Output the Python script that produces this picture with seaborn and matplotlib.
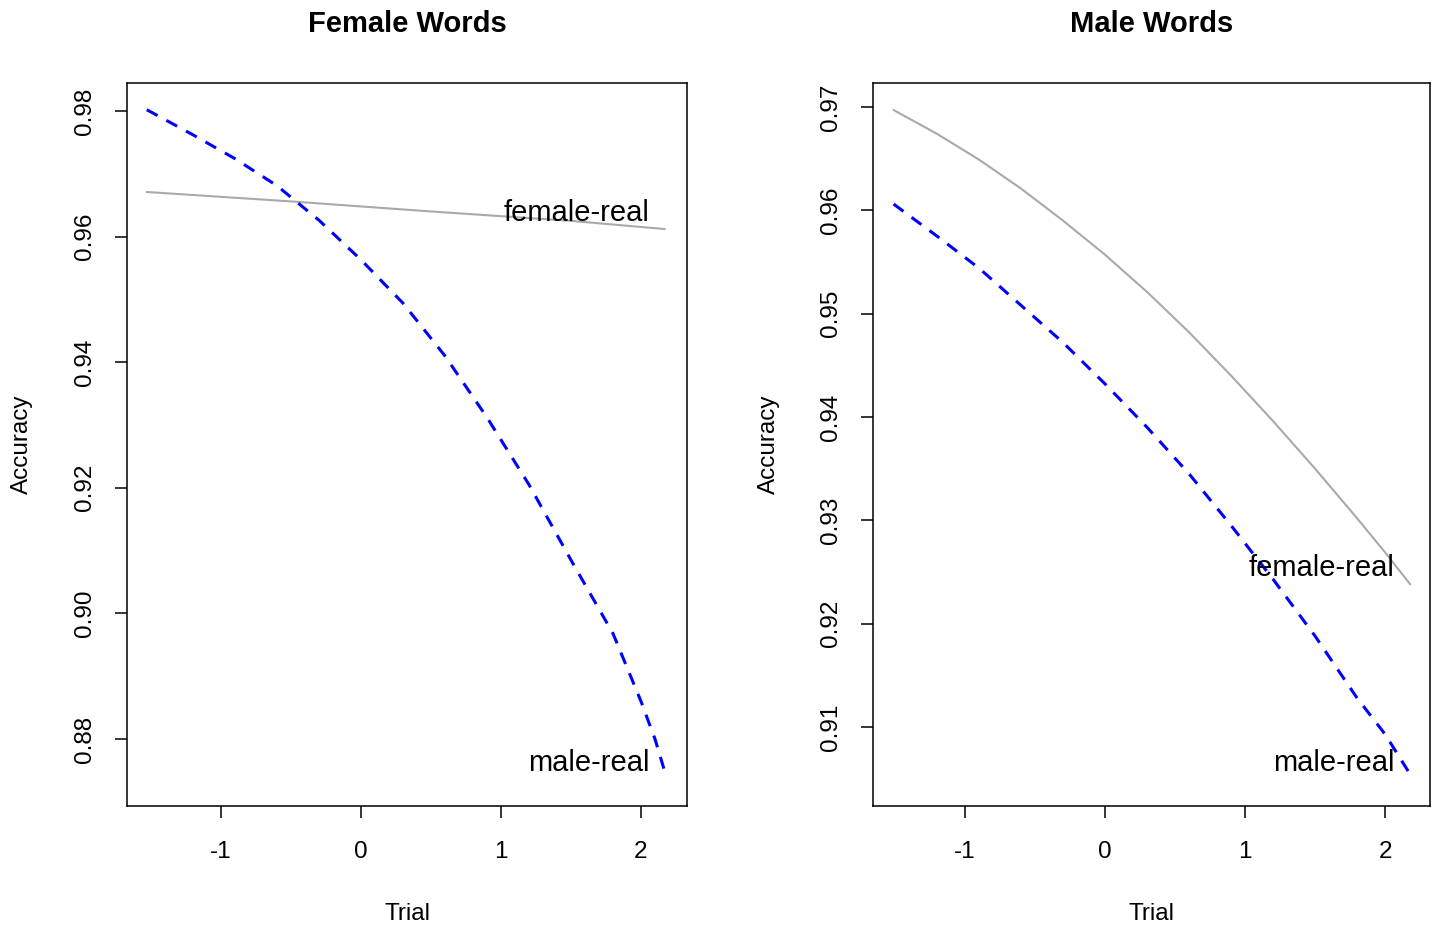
import numpy as np
import pandas as pd
import matplotlib
matplotlib.use("Agg")
import matplotlib.pyplot as plt
import seaborn as sns

# values
fw_trial_male = [-1.53, -1.2, -0.9, -0.6, -0.3, 0.0, 0.3, 0.6, 0.9, 1.2, 1.5, 1.8, 2.0, 2.1, 2.17]
fw_male_real = [0.9802, 0.9762, 0.9724, 0.9681, 0.9626, 0.9563, 0.9494, 0.9410, 0.9312,
                0.9205, 0.9085, 0.8968, 0.8860, 0.8800, 0.8748]
fw_trial_female = [-1.53, -0.5, 0.5, 1.5, 2.17]
fw_female_real = [0.9671, 0.9656, 0.9640, 0.9625, 0.9612]

mw_trial = [-1.51, -1.2, -0.9, -0.6, -0.3, 0.0, 0.3, 0.6, 0.9, 1.2, 1.5, 1.8, 2.0, 2.18]
mw_male_real = [0.9606, 0.9575, 0.9544, 0.9508, 0.9472, 0.9432, 0.9390, 0.9345, 0.9295,
                0.9243, 0.9188, 0.9128, 0.9093, 0.9054]
mw_female_real = [0.9697, 0.9674, 0.9649, 0.9621, 0.9590, 0.9557, 0.9521, 0.9482, 0.9440,
                  0.9396, 0.9350, 0.9302, 0.9269, 0.9238]

x_ticks = [-1, 0, 1, 2]
fw_y_ticks = [0.88, 0.90, 0.92, 0.94, 0.96, 0.98]
mw_y_ticks = [0.91, 0.92, 0.93, 0.94, 0.95, 0.96, 0.97]

sns.set_style("white")
plt.rcParams['font.family'] = ['Liberation Sans', 'DejaVu Sans']
plt.rcParams['axes.unicode_minus'] = False
plt.rcParams['text.color'] = 'black'
plt.rcParams['axes.labelcolor'] = 'black'
plt.rcParams['xtick.color'] = 'black'
plt.rcParams['ytick.color'] = 'black'

GRAY = '#a9a9a9'
BLUE = '#0000ff'

fig = plt.figure(figsize=(14.34, 9.26), dpi=100)
ax1 = fig.add_axes([0.0886, 0.1296, 0.3905, 0.7808])
ax2 = fig.add_axes([0.6088, 0.1296, 0.3884, 0.7808])


def style_axes(ax, title, yticks, xlim, ylim):
    ax.set_xlim(*xlim)
    ax.set_ylim(*ylim)
    ax.set_xticks(x_ticks)
    ax.set_xticklabels([str(t) for t in x_ticks])
    ax.set_yticks(yticks)
    ax.set_yticklabels(['%.2f' % t for t in yticks], rotation=90, va='center')
    for s in ax.spines.values():
        s.set_visible(True)
        s.set_color('black')
        s.set_linewidth(1.1)
    ax.tick_params(axis='both', which='major', direction='out', length=8.5, width=1.1,
                   color='black', labelsize=17.5, labelcolor='black',
                   bottom=True, left=True, top=False, right=False)
    ax.tick_params(axis='x', pad=17)
    ax.tick_params(axis='y', pad=14)
    ax.set_xlabel('Trial', fontsize=17.5, color='black')
    ax.set_ylabel('Accuracy', fontsize=17.5, color='black')
    ax.xaxis.set_label_coords(0.5, -0.149)
    ax.xaxis.label.set_va('center')
    ax.yaxis.set_label_coords(-0.1875, 0.5)
    ax.yaxis.label.set_va('center')
    ax.text(0.5, 1.082, title, transform=ax.transAxes, ha='center', va='center',
            fontsize=21, fontweight='bold', color='black')
    ax.grid(False)


# Female Words
sns.lineplot(x=fw_trial_female, y=fw_female_real, ax=ax1, color=GRAY, linewidth=1.5, sort=False)
sns.lineplot(x=fw_trial_male, y=fw_male_real, ax=ax1, color=BLUE, linewidth=2.2,
             linestyle=(0, (4, 3.3)), sort=False)
style_axes(ax1, 'Female Words', fw_y_ticks, (-1.671, 2.329), (0.86933, 0.98446))
ax1.text(2.064, 0.9638, 'female-real', ha='right', va='center', fontsize=21)
ax1.text(2.064, 0.8762, 'male-real', ha='right', va='center', fontsize=21)

# Male Words
sns.lineplot(x=mw_trial, y=mw_female_real, ax=ax2, color=GRAY, linewidth=1.5, sort=False)
sns.lineplot(x=mw_trial, y=mw_male_real, ax=ax2, color=BLUE, linewidth=2.2,
             linestyle=(0, (4, 3.3)), sort=False)
style_axes(ax2, 'Male Words', mw_y_ticks, (-1.657, 2.321), (0.90235, 0.97232))
ax2.text(2.07, 0.92537, 'female-real', ha='right', va='center', fontsize=21)
ax2.text(2.07, 0.9065, 'male-real', ha='right', va='center', fontsize=21)

plt.savefig('out.png', dpi=100)
